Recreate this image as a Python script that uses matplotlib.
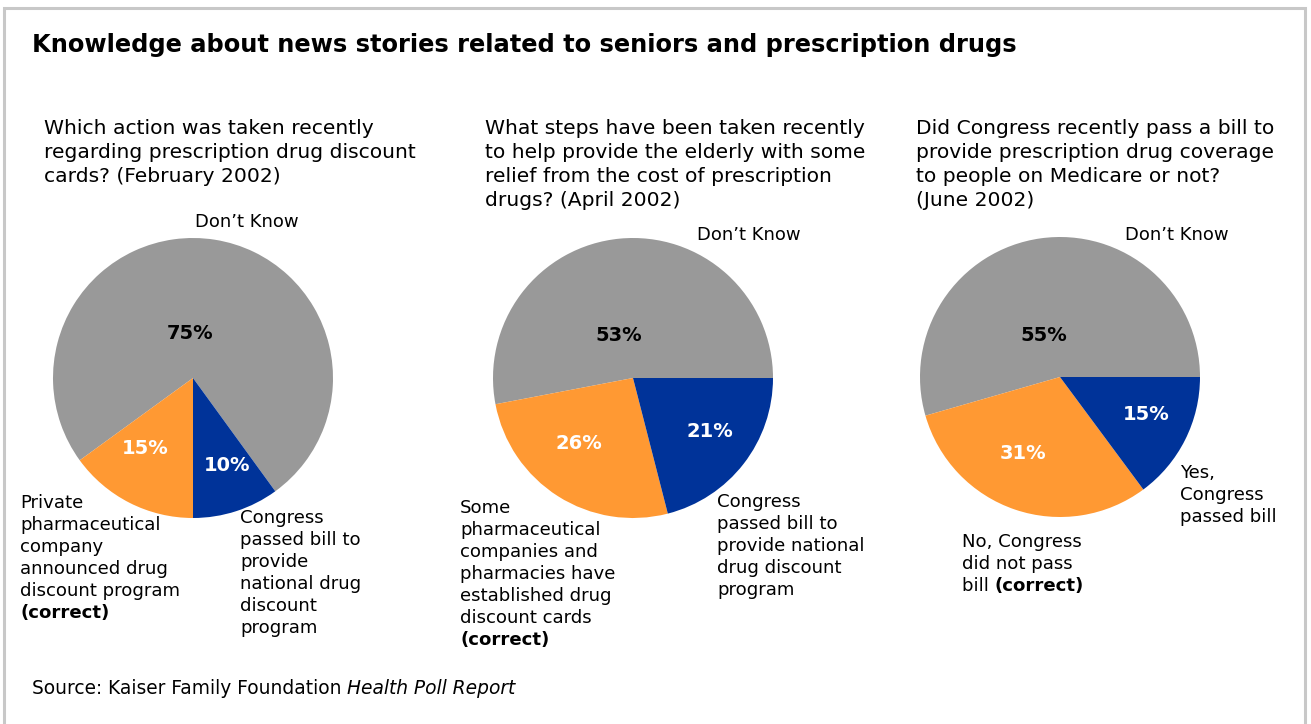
import matplotlib
matplotlib.use("Agg")
import matplotlib.pyplot as plt
import numpy as np

# --- data ---
title = "Knowledge about news stories related to seniors and prescription drugs"
source_plain = "Source: Kaiser Family Foundation "
source_italic = "Health Poll Report"

questions = [
    ["Which action was taken recently",
     "regarding prescription drug discount",
     "cards? (February 2002)"],
    ["What steps have been taken recently",
     "to help provide the elderly with some",
     "relief from the cost of prescription",
     "drugs? (April 2002)"],
    ["Did Congress recently pass a bill to",
     "provide prescription drug coverage",
     "to people on Medicare or not?",
     "(June 2002)"],
]

# slice order: Don't Know, orange answer, blue answer
values_feb = [75, 15, 10]
values_apr = [53, 26, 21]
values_jun = [55, 31, 15]
pie_values = [values_feb, values_apr, values_jun]

orange_labels = [
    ["Private", "pharmaceutical", "company", "announced drug",
     "discount program", [("(correct)", "bold")]],
    ["Some", "pharmaceutical", "companies and", "pharmacies have",
     "established drug", "discount cards", [("(correct)", "bold")]],
    ["No, Congress", "did not pass", [("bill ", "normal"), ("(correct)", "bold")]],
]
blue_labels = [
    ["Congress", "passed bill to", "provide", "national drug",
     "discount", "program"],
    ["Congress", "passed bill to", "provide national", "drug discount",
     "program"],
    ["Yes,", "Congress", "passed bill"],
]

colors = ["#999999", "#ff9933", "#003399"]
pct_colors = ["black", "white", "white"]

W, H = 1311, 724
fig = plt.figure(figsize=(W / 100, H / 100), dpi=100, facecolor="white")

# overlay axes in pixel coordinates for all the text
bg = fig.add_axes([0, 0, 1, 1])
bg.set_xlim(0, W)
bg.set_ylim(H, 0)
bg.axis("off")

# frame (top, left, right)
bg.plot([4, 4, 1305, 1305], [730, 8, 8, 730], color="#c8c8c8", lw=2.2,
        solid_joinstyle="miter")


def put_lines(x, y0, lines, dy, size):
    for i, line in enumerate(lines):
        if isinstance(line, str):
            line = [(line, "normal")]
        prev = None
        for seg, style in line:
            kw = dict(fontsize=size, color="black",
                      weight="bold" if style == "bold" else "normal",
                      style="italic" if style == "italic" else "normal")
            if prev is None:
                prev = bg.text(x, y0 + i * dy, seg, ha="left", va="center", **kw)
            else:
                prev = bg.annotate(seg, xy=(1, 0), xycoords=prev,
                                   ha="left", va="bottom", **kw)


bg.text(32, 45, title, fontsize=17.4, weight="bold", ha="left", va="center")

# pie geometry (pixels)
centers = [(193, 378), (633, 378), (1060, 377)]
radius = 140
start_angles = [-90 + values_feb[2] / sum(values_feb) * 360, 0, 0]
# percent label placement: distance from centre and nudge off the mid-angle
pct_dist = [0.32, 0.61, 0.67]
pct_turn = [13, -7, 3]

q_x = [44, 485, 916]
dk_pos = [(195, 222), (697, 235), (1125, 235)]
orange_pos = [(20, 503), (460, 508), (962, 542)]
blue_pos = [(240, 518), (717, 502), (1180, 473)]

for k in range(3):
    cx, cy = centers[k]
    ax = fig.add_axes([(cx - radius) / W, 1 - (cy + radius) / H,
                       2 * radius / W, 2 * radius / H])
    vals = pie_values[k]
    wedges, _ = ax.pie(vals, colors=colors, startangle=start_angles[k],
                       counterclock=True, radius=1,
                       wedgeprops=dict(linewidth=0))
    ax.set_xlim(-1, 1)
    ax.set_ylim(-1, 1)
    ax.axis("off")
    for j, w in enumerate(wedges):
        mid = np.deg2rad((w.theta1 + w.theta2) / 2 + pct_turn[j])
        d = pct_dist[j]
        ax.text(d * np.cos(mid), d * np.sin(mid), f"{vals[j]}%",
                ha="center", va="center", fontsize=14, weight="bold",
                color=pct_colors[j])

    put_lines(q_x[k], 129, questions[k], 24, 14.6)
    bg.text(dk_pos[k][0], dk_pos[k][1], "Don’t Know", fontsize=13,
            ha="left", va="center")
    put_lines(orange_pos[k][0], orange_pos[k][1], orange_labels[k], 22, 13.1)
    put_lines(blue_pos[k][0], blue_pos[k][1], blue_labels[k], 22, 13.1)

# source line
src = bg.text(32, 688, source_plain, fontsize=13.4, ha="left", va="center")
bg.annotate(source_italic, xy=(1, 0), xycoords=src, ha="left", va="bottom",
            fontsize=13.4, style="italic")

fig.savefig("out.png", dpi=100, facecolor="white")
